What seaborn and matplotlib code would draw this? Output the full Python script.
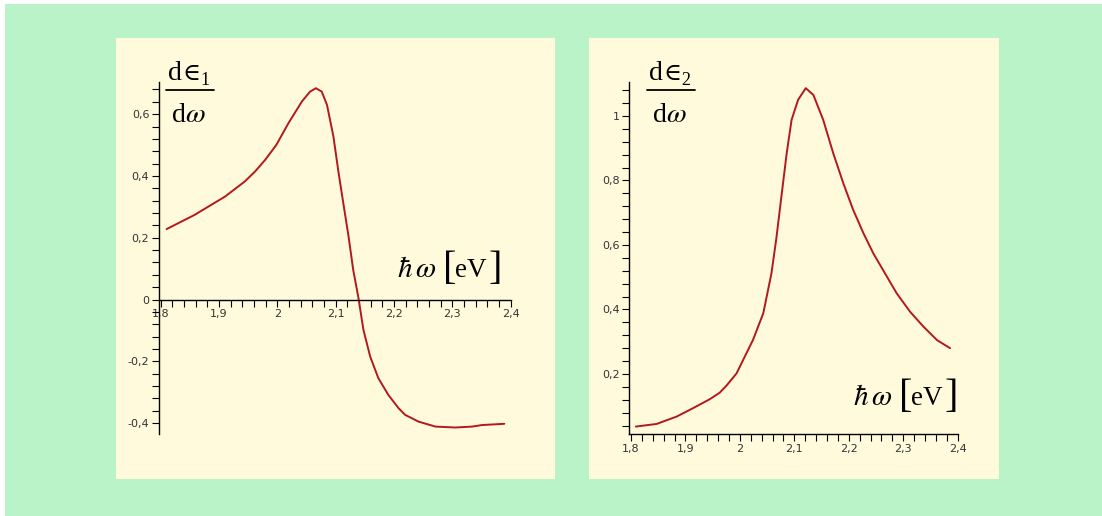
import matplotlib
matplotlib.use("Agg")
import matplotlib.pyplot as plt
import numpy as np
import pandas as pd
import seaborn as sns
from matplotlib.lines import Line2D
from matplotlib.patches import Rectangle
from matplotlib.ticker import FixedLocator, FixedFormatter, MultipleLocator

# ---------------- data ----------------
energy_1 = [1.81, 1.858, 1.91, 1.944, 1.962, 1.979, 1.998, 2.019, 2.042, 2.056, 2.066,
            2.076, 2.085, 2.096, 2.105, 2.113, 2.122, 2.130, 2.139, 2.1475, 2.159,
            2.173, 2.190, 2.2075, 2.219, 2.242, 2.271, 2.305, 2.334, 2.351, 2.389]
d_eps1 = [0.228, 0.274, 0.333, 0.382, 0.415, 0.452, 0.50, 0.571, 0.641, 0.673, 0.684,
          0.673, 0.630, 0.528, 0.409, 0.312, 0.204, 0.096, 0.005, -0.098, -0.184,
          -0.254, -0.308, -0.351, -0.373, -0.395, -0.411, -0.414, -0.411, -0.406, -0.402]

energy_2 = [1.809, 1.847, 1.884, 1.914, 1.945, 1.963, 1.975, 1.994, 2.012, 2.024, 2.043,
            2.058, 2.067, 2.077, 2.086, 2.095, 2.107, 2.121, 2.135, 2.153, 2.1715,
            2.190, 2.208, 2.227, 2.245, 2.263, 2.288, 2.3125, 2.337, 2.362, 2.386]
d_eps2 = [0.037, 0.045, 0.068, 0.094, 0.122, 0.142, 0.163, 0.202, 0.264, 0.305, 0.388,
          0.512, 0.620, 0.760, 0.884, 0.988, 1.050, 1.086, 1.065, 0.988, 0.884,
          0.791, 0.709, 0.636, 0.574, 0.522, 0.450, 0.393, 0.347, 0.305, 0.280]

x_ticks = [1.8, 1.9, 2.0, 2.1, 2.2, 2.3, 2.4]
x_tick_labels = ["1,8", "1,9", "2", "2,1", "2,2", "2,3", "2,4"]
y1_ticks = [-0.4, -0.2, 0.0, 0.2, 0.4, 0.6]
y1_tick_labels = ["-0,4", "-0,2", "0", "0,2", "0,4", "0,6"]
y2_ticks = [0.2, 0.4, 0.6, 0.8, 1.0]
y2_tick_labels = ["0,2", "0,4", "0,6", "0,8", "1"]

df1 = pd.DataFrame({"E": energy_1, "v": d_eps1})
df2 = pd.DataFrame({"E": energy_2, "v": d_eps2})

# ---------------- style ----------------
sns.set_theme(style="white")
plt.rcParams["font.family"] = ["DejaVu Sans"]
plt.rcParams["mathtext.fontset"] = "stix"

W, H = 1102, 516
fig = plt.figure(figsize=(W / 100, H / 100), dpi=100)
fig.patch.set_facecolor("white")

GREEN = "#bbf3c8"
CREAM = "#fffadc"
LINE = "#b3181c"
SERIF = ["Liberation Serif", "DejaVu Serif"]


def px_rect(x0, y0, x1, y1, color, z):
    fig.add_artist(Rectangle((x0 / W, 1 - y1 / H), (x1 - x0) / W, (y1 - y0) / H,
                             transform=fig.transFigure, facecolor=color,
                             edgecolor="none", zorder=z))


px_rect(5, 4, W, H, GREEN, -20)
px_rect(116, 38, 555, 479, CREAM, -10)
px_rect(589, 38, 999, 479, CREAM, -10)


def px_axes(x0, y0, x1, y1):
    return fig.add_axes([x0 / W, 1 - y1 / H, (x1 - x0) / W, (y1 - y0) / H])


ax1 = px_axes(159, 81.7, 510.7, 434)
ax2 = px_axes(629.3, 81.7, 957.7, 434.3)

sns.lineplot(data=df1, x="E", y="v", ax=ax1, color=LINE, linewidth=1.4)
sns.lineplot(data=df2, x="E", y="v", ax=ax2, color=LINE, linewidth=1.4)

ax1.set_xlim(1.797, 2.4)
ax1.set_ylim(-0.435, 0.705)
ax2.set_xlim(1.797, 2.4)
ax2.set_ylim(0.013, 1.106)

for ax, yt, ytl in ((ax1, y1_ticks, y1_tick_labels), (ax2, y2_ticks, y2_tick_labels)):
    ax.set_facecolor("none")
    ax.set_xlabel("")
    ax.set_ylabel("")
    for s in ("top", "right"):
        ax.spines[s].set_visible(False)
    for s in ("left", "bottom"):
        ax.spines[s].set_color("black")
        ax.spines[s].set_linewidth(1.0)
    ax.xaxis.set_major_locator(FixedLocator(x_ticks))
    ax.xaxis.set_major_formatter(FixedFormatter(x_tick_labels))
    ax.xaxis.set_minor_locator(MultipleLocator(0.02))
    ax.yaxis.set_major_locator(FixedLocator(yt))
    ax.yaxis.set_major_formatter(FixedFormatter(ytl))
    ax.yaxis.set_minor_locator(MultipleLocator(0.04))
    ax.tick_params(axis="both", which="both", direction="out", length=5, width=0.8,
                   color="black", labelcolor="#333333", labelsize=8, pad=2,
                   bottom=True, left=True)
    ax.grid(False)

ax1.spines["bottom"].set_position(("data", 0))


def px_text(x, y, s, **kw):
    fig.text(x / W, 1 - y / H, s, color="black", ha="left", va="baseline", **kw)


def fraction(x0, index):
    # numerator  d∈_i
    px_text(x0 + 1, 80.5, "d", fontsize=20, family=SERIF)
    px_text(x0 + 15, 80.5, "\u2208", fontsize=17.5, family=["DejaVu Serif"])
    px_text(x0 + 33, 84.5, index, fontsize=13, family=SERIF)
    # bar
    fig.add_artist(Line2D([(x0 - 1) / W, (x0 + 47) / W], [1 - 90 / H, 1 - 90 / H],
                          transform=fig.transFigure, color="black", linewidth=1.3))
    # denominator  dω
    px_text(x0 + 5, 122, "d", fontsize=20, family=SERIF)
    px_text(x0 + 18, 122, r"$\omega$", fontsize=20.5)


def energy_label(x0, base):
    px_text(x0, base, r"$\hbar\,\omega$", fontsize=21)
    px_text(x0 + 46, base + 2, "[", fontsize=29, family=SERIF)
    px_text(x0 + 58, base, "eV", fontsize=19.5, family=SERIF)
    px_text(x0 + 92, base + 2, "]", fontsize=29, family=SERIF)


fraction(167, "1")
fraction(648, "2")
energy_label(397, 277)
energy_label(853, 405.3)

fig.savefig("out.png", dpi=100, facecolor=fig.get_facecolor())
